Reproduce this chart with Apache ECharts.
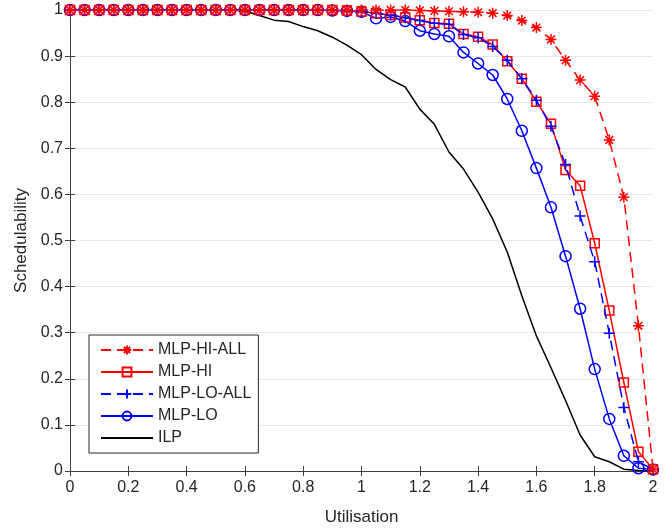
<!DOCTYPE html>
<html>
<head>
<meta charset="utf-8">
<script src="https://cdn.jsdelivr.net/npm/echarts@6/dist/echarts.min.js"></script>
<style>
  html, body { margin: 0; padding: 0; background: #fff; }
  #chart { width: 672px; height: 529px; }
</style>
</head>
<body>
<div id="chart"></div>
<script>
// utilisation values (x)
const utilisation = [0, 0.05, 0.1, 0.15, 0.2, 0.25, 0.3, 0.35, 0.4, 0.45, 0.5, 0.55, 0.6, 0.65, 0.7, 0.75, 0.8, 0.85, 0.9, 0.95,
  1.0, 1.05, 1.1, 1.15, 1.2, 1.25, 1.3, 1.35, 1.4, 1.45, 1.5, 1.55, 1.6, 1.65, 1.7, 1.75, 1.8, 1.85, 1.9, 1.95, 2.0];

const mlpHiAll = [1, 1, 1, 1, 1, 1, 1, 1, 1, 1, 1, 1, 1, 1, 1, 1, 1, 1, 1, 1,
  1, 1, 1, 1, 0.999, 0.998, 0.997, 0.996, 0.995, 0.993, 0.988, 0.977, 0.962, 0.936, 0.891, 0.848, 0.813, 0.718, 0.594, 0.315, 0.004];

const mlpHi = [1, 1, 1, 1, 1, 1, 1, 1, 1, 1, 1, 1, 1, 1, 1, 1, 1, 1, 1, 0.999,
  0.997, 0.993, 0.989, 0.984, 0.978, 0.972, 0.970, 0.948, 0.942, 0.925, 0.889, 0.851, 0.801, 0.753, 0.653, 0.619, 0.494, 0.348, 0.192, 0.042, 0.004];

const mlpLoAll = [1, 1, 1, 1, 1, 1, 1, 1, 1, 1, 1, 1, 1, 1, 1, 1, 1, 1, 1, 0.999,
  0.997, 0.993, 0.989, 0.983, 0.977, 0.971, 0.969, 0.947, 0.940, 0.921, 0.891, 0.851, 0.804, 0.748, 0.665, 0.553, 0.454, 0.299, 0.138, 0.020, 0.003];

const mlpLo = [1, 1, 1, 1, 1, 1, 1, 1, 1, 1, 1, 1, 1, 1, 1, 1, 1, 1, 0.999, 0.998,
  0.996, 0.982, 0.985, 0.976, 0.955, 0.948, 0.943, 0.908, 0.884, 0.859, 0.807, 0.738, 0.657, 0.572, 0.466, 0.352, 0.221, 0.113, 0.033, 0.006, 0.003];

const ilp = [1, 1, 1, 1, 1, 1, 1, 1, 1, 1, 1, 1, 0.998, 0.988, 0.978, 0.975, 0.964, 0.955, 0.941, 0.924,
  0.903, 0.871, 0.849, 0.833, 0.785, 0.752, 0.692, 0.655, 0.605, 0.547, 0.475, 0.380, 0.293, 0.224, 0.153, 0.078, 0.031, 0.020, 0.004, 0.001, 0];

const xTicks = [0, 0.2, 0.4, 0.6, 0.8, 1, 1.2, 1.4, 1.6, 1.8, 2];

const pairs = ys => utilisation.map((u, i) => [u, ys[i]]);

const FONT = '"Liberation Sans", Arial, Helvetica, sans-serif';
const AXIS = '#404040';
const TEXT = '#262626';

const starPath = 'path://M0,-1L0,1M-1,0L1,0M-0.7,-0.7L0.7,0.7M-0.7,0.7L0.7,-0.7';
const plusPath = 'path://M0,-1L0,1M-1,0L1,0';

const chart = echarts.init(document.getElementById('chart'), null, { renderer: 'canvas' });

const axisCommon = {
  type: 'value',
  axisLine: { show: true, lineStyle: { color: AXIS, width: 1 } },
  axisTick: { show: true, inside: true, length: 5, lineStyle: { color: AXIS } },
};

const option = {
  animation: false,
  textStyle: { fontFamily: FONT },
  grid: { left: 70, right: 19, top: 10, bottom: 58, outerBoundsMode: 'none', containLabel: false },
  legend: {
    orient: 'vertical',
    left: 89,
    top: 335,
    padding: [7, 7, 7, 11],
    itemWidth: 52,
    itemHeight: 11,
    itemGap: 6,
    backgroundColor: '#fff',
    borderColor: '#262626',
    borderWidth: 1,
    borderRadius: 0,
    textStyle: { fontFamily: FONT, fontSize: 16, color: TEXT },
    data: ['MLP-HI-ALL', 'MLP-HI', 'MLP-LO-ALL', 'MLP-LO', 'ILP']
  },
  xAxis: [
    Object.assign({}, axisCommon, {
      min: 0, max: 2, interval: 0.2,
      name: 'Utilisation', nameLocation: 'middle', nameGap: 38,
      nameTextStyle: { fontFamily: FONT, fontSize: 17, color: TEXT },
      axisLabel: { fontFamily: FONT, fontSize: 16, color: TEXT, margin: 9,
        formatter: v => xTicks.indexOf(Math.round(v * 10) / 10) >= 0 ? String(Math.round(v * 10) / 10) : '' },
      splitLine: { show: false }
    }),
    Object.assign({}, axisCommon, {
      position: 'top', min: 0, max: 2, interval: 0.2,
      axisLabel: { show: false }, splitLine: { show: false }
    })
  ],
  yAxis: [
    Object.assign({}, axisCommon, {
      min: 0, max: 1, interval: 0.1,
      name: 'Schedulability', nameLocation: 'middle', nameGap: 39,
      nameTextStyle: { fontFamily: FONT, fontSize: 17, color: TEXT },
      axisLabel: { fontFamily: FONT, fontSize: 16, color: TEXT, margin: 7,
        formatter: v => String(Math.round(v * 10) / 10) },
      splitLine: { show: true, lineStyle: { color: '#e8e8e8', width: 1 } }
    }),
    Object.assign({}, axisCommon, {
      position: 'right', min: 0, max: 1, interval: 0.1,
      axisLabel: { show: false }, splitLine: { show: false }
    })
  ],
  series: [
    {
      name: 'ILP', type: 'line', data: pairs(ilp), symbol: 'none',
      color: '#000', lineStyle: { color: '#000', width: 1.5 },
      itemStyle: { color: 'rgba(0,0,0,0)', borderColor: 'rgba(0,0,0,0)', borderWidth: 0 }, z: 2
    },
    {
      name: 'MLP-LO', type: 'line', data: pairs(mlpLo), symbol: 'circle', symbolSize: 11,
      color: '#0000ff', lineStyle: { color: '#0000ff', width: 1.5 },
      itemStyle: { color: 'rgba(255,255,255,0)', borderColor: '#0000ff', borderWidth: 1.5 }, z: 3
    },
    {
      name: 'MLP-HI', type: 'line', data: pairs(mlpHi), symbol: 'rect', symbolSize: 9,
      color: '#ff0000', lineStyle: { color: '#ff0000', width: 1.5 },
      itemStyle: { color: 'rgba(255,255,255,0)', borderColor: '#ff0000', borderWidth: 1.5 }, z: 4
    },
    {
      name: 'MLP-LO-ALL', type: 'line', data: pairs(mlpLoAll), symbol: plusPath, symbolSize: 11,
      color: '#0000ff', lineStyle: { color: '#0000ff', width: 1.5, type: [10, 6] },
      itemStyle: { color: 'rgba(255,255,255,0)', borderColor: '#0000ff', borderWidth: 1.5 }, z: 5
    },
    {
      name: 'MLP-HI-ALL', type: 'line', data: pairs(mlpHiAll), symbol: starPath, symbolSize: 11,
      color: '#ff0000', lineStyle: { color: '#ff0000', width: 1.5, type: [10, 6] },
      itemStyle: { color: 'rgba(255,255,255,0)', borderColor: '#ff0000', borderWidth: 1.5 }, z: 6
    }
  ]
};

chart.setOption(option);
</script>
</body>
</html>
